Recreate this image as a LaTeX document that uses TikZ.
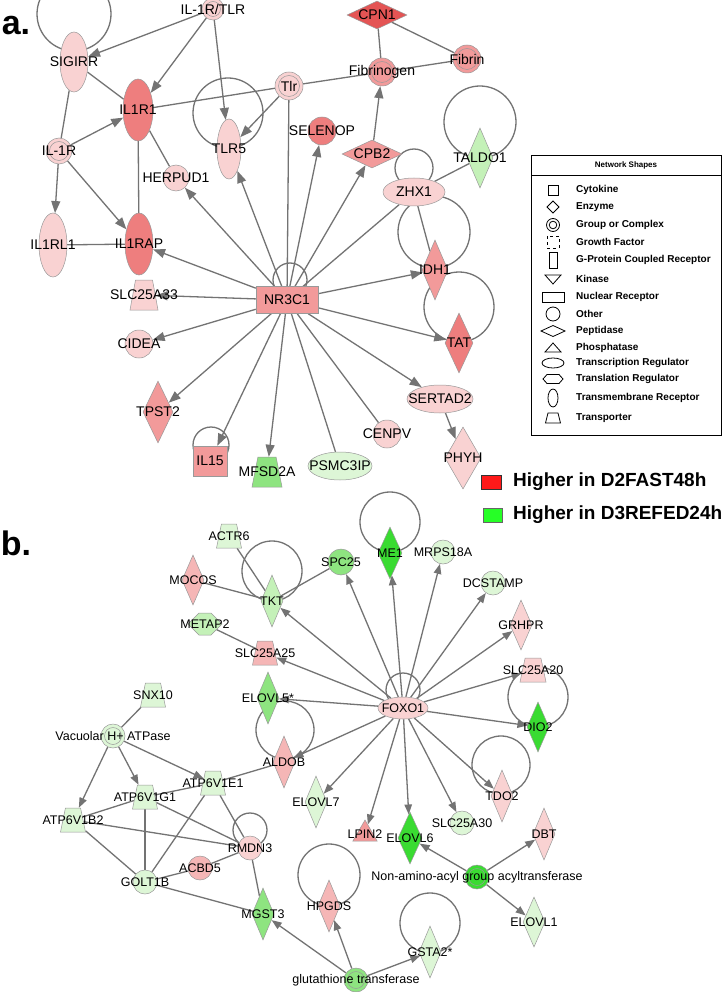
\documentclass[tikz,border=0pt]{standalone}
\usepackage{fontspec}
\setmainfont{Liberation Sans}
\usetikzlibrary{shapes.geometric,shapes.symbols,arrows.meta,backgrounds}
\definecolor{pk1}{HTML}{F9D2D2}
\definecolor{pk2}{HTML}{F5B6B6}
\definecolor{pk3}{HTML}{F29A9A}
\definecolor{pk4}{HTML}{EE7E7E}
\definecolor{pk5}{HTML}{E45454}
\definecolor{gn1}{HTML}{DDF6D6}
\definecolor{gn2}{HTML}{C4F1B8}
\definecolor{gn3}{HTML}{8EE480}
\definecolor{gn4}{HTML}{3ADB32}
\colorlet{edgec}{black!55}
\newcommand{\fsa}{\fontsize{14}{16}\selectfont}
\newcommand{\fsb}{\fontsize{12.5}{14}\selectfont}
\tikzset{
  gbase/.style={draw=black!40,line width=.5pt,inner sep=0pt,fill=#1},
  tmr/.style={gbase=#1,ellipse,minimum width=28,minimum height=62},
  trreg/.style={gbase=#1,ellipse,minimum width=64,minimum height=28},
  enz/.style={gbase=#1,diamond,minimum width=28,minimum height=60},
  pep/.style={gbase=#1,diamond,minimum width=60,minimum height=28},
  grp/.style={gbase=#1,circle,minimum size=26,
    path picture={\draw[black!40,line width=.5pt] (path picture bounding box.center)
      circle[radius={\pgfkeysvalueof{/pgf/minimum width}/2-3.5}];}},
  oth/.style={gbase=#1,circle,minimum size=28},
  nucr/.style={gbase=#1,rectangle,minimum width=62,minimum height=27},
  cyt/.style={gbase=#1,rectangle,minimum width=34,minimum height=30},
  trans/.style={gbase=#1,inner sep=2pt,trapezium,trapezium stretches=true,trapezium left angle=72,
    trapezium right angle=72,minimum width=28,minimum height=30},
  phos/.style={gbase=#1,regular polygon,regular polygon sides=3,minimum size=28},
  tlreg/.style={gbase=#1,signal,signal to=east and west,minimum width=34,minimum height=22},
  smd/.style={minimum width=22,minimum height=52},
  smt/.style={minimum width=25,minimum height=24},
  rel/.style={draw=edgec,line width=1.3pt},
  act/.style={rel,-{Triangle[length=12pt,width=9pt]}},
  actb/.style={rel,-{Triangle[length=10pt,width=7.5pt]}},
  lgtxt/.style={font=\fontsize{10}{12}\bfseries\selectfont,anchor=west,inner sep=0pt},
  icon/.style={draw=black,line width=.8pt}
}

\begin{document}
\begin{tikzpicture}[x=1pt,y=-1pt]
  \useasboundingbox (0,0) rectangle (723,992);
  \node[font=\fontsize{34}{36}\bfseries\selectfont] (pa) at (16,26) {a.};
  \node[font=\fontsize{34}{36}\bfseries\selectfont] (pb) at (16,543) {b.};

  % panel a
  \begin{scope}[every label/.style={font=\fsa,inner sep=0pt}]
  \node[grp=pk1,minimum size=22,label=center:IL-1R/TLR] (iltlr) at (213,9) {};
  \node[tmr=pk1,minimum height=60,label=center:SIGIRR] (sigirr) at (74,62) {};
  \node[tmr=pk4,minimum width=30,label=center:IL1R1] (il1r1) at (138,110) {};
  \node[grp=pk1,label=center:IL-1R] (il1r) at (59,151) {};
  \node[tmr=pk1,minimum width=24,minimum height=60,label=center:TLR5] (tlr5) at (229,149) {};
  \node[oth=pk1,minimum size=26,label=center:HERPUD1] (herpud) at (176,178) {};
  \node[grp=pk1,minimum size=28,label=center:Tlr] (tlr) at (289,86) {};
  \node[pep=pk5,label=center:CPN1] (cpn1) at (377,15) {};
  \node[grp=pk3,minimum size=28,label=center:Fibrinogen] (fbg) at (382,72) {};
  \node[grp=pk3,minimum size=28,label=center:Fibrin] (fbn) at (467,59) {};
  \node[oth=pk4,label=center:SELENOP] (selenop) at (322,131) {};
  \node[pep=pk3,label=center:CPB2] (cpb2) at (372,154) {};
  \node[trreg=pk1,minimum width=62,label=center:ZHX1] (zhx1) at (414,192) {};
  \node[enz=gn2,minimum width=26,label=center:TALDO1] (taldo1) at (480,158) {};
  \node[tmr=pk1,minimum height=64,label=center:IL1RL1] (il1rl1) at (53,245) {};
  \node[tmr=pk4,label=center:IL1RAP] (il1rap) at (139,244) {};
  \node[trans=pk1,label=center:SLC25A33] (slc33) at (144,295) {};
  \node[nucr=pk3,label=center:NR3C1] (nr3c1) at (287,300) {};
  \node[enz=pk3,minimum width=26,label=center:IDH1] (idh1) at (435,270) {};
  \node[enz=pk4,label=center:TAT] (tat) at (459,343) {};
  \node[oth=pk1,label=center:CIDEA] (cidea) at (139,344) {};
  \node[enz=pk3,minimum width=30,minimum height=62,label=center:TPST2] (tpst2) at (158,412) {};
  \node[cyt=pk3,label=center:IL15] (il15) at (210,461) {};
  \node[trans=gn3,minimum width=30,label=center:MFSD2A] (mfsd2a) at (267,472) {};
  \node[trreg=gn1,label=center:PSMC3IP] (psmc3ip) at (340,466) {};
  \node[oth=pk1,label=center:CENPV] (cenpv) at (387,434) {};
  \node[trreg=pk1,minimum width=66,label=center:SERTAD2] (sertad2) at (440,399) {};
  \node[enz=pk1,minimum width=36,minimum height=62,label=center:PHYH] (phyh) at (463,458) {};
  \end{scope}

  % legend
  \draw[line width=.9pt] (531,155) rectangle (721,435);
  \draw[line width=.9pt] (531,175) -- (721,175);
  \node[font=\fontsize{8}{10}\bfseries\selectfont] (lgtitle) at (626,165) {Network Shapes};
  \foreach \yy/\txt in {190/Cytokine,207/Enzyme,225/Group or Complex,242/Growth Factor,
    260/G-Protein Coupled Receptor,279/Kinase,297/Nuclear Receptor,314/Other,331/Peptidase,
    348/Phosphatase,363/Transcription Regulator,379/Translation Regulator,
    398/Transmembrane Receptor,418/Transporter}
    \node[lgtxt] (lg\yy) at (576,\yy) {\txt};
  \draw[icon] (548,185) rectangle (558,195);
  \draw[icon] (553,201) -- (559,207) -- (553,213) -- (547,207) -- cycle;
  \draw[icon] (553,225) circle[radius=6.5] (553,225) circle[radius=3.8];
  \draw[icon,dashed] (547,236) rectangle (559,248);
  \draw[icon] (549,252) rectangle (557,268);
  \draw[icon] (545,275) -- (561,275) -- (553,284) -- cycle;
  \draw[icon] (542,292) rectangle (564,302);
  \draw[icon] (553,314) circle[radius=7];
  \draw[icon] (541,331) -- (553,325.5) -- (565,331) -- (553,336.5) -- cycle;
  \draw[icon] (545,352) -- (561,352) -- (553,343) -- cycle;
  \draw[icon] (553,363) ellipse[x radius=11,y radius=5];
  \draw[icon] (543,379) -- (547,374.5) -- (559,374.5) -- (563,379) -- (559,383.5) -- (547,383.5) -- cycle;
  \draw[icon] (553,398) ellipse[x radius=5,y radius=9];
  \draw[icon] (548,413) -- (558,413) -- (560.5,423) -- (545.5,423) -- cycle;

  \draw[fill=red!90!white,draw=black!80,line width=.8pt] (481,475) rectangle (501,489);
  \draw[fill=green!85!white,draw=black!60,line width=.8pt] (483,508) rectangle (502,522);
  \node[font=\fontsize{19}{21}\bfseries\selectfont,anchor=west,inner sep=0pt] (hi1) at (513,482) {Higher in D2FAST48h};
  \node[font=\fontsize{19}{21}\bfseries\selectfont,anchor=west,inner sep=0pt] (hi2) at (513,515) {Higher in D3REFED24h};

  % panel b
  \begin{scope}[every label/.style={font=\fsb,inner sep=0pt}]
  \node[trans=gn1,smt,label=center:ACTR6] (actr6) at (229,536) {};
  \node[enz=pk2,smd,minimum height=50,label=center:MOCOS] (mocos) at (193,580) {};
  \node[enz=gn2,smd,label=center:TKT] (tkt) at (272,601) {};
  \node[oth=gn3,minimum size=26,label=center:SPC25] (spc25) at (341,562) {};
  \node[enz=gn4,smd,minimum width=24,label=center:ME1] (me1) at (390,553) {};
  \node[oth=gn1,minimum size=24,label=center:MRPS18A] (mrps) at (443,552) {};
  \node[oth=gn1,minimum size=24,label=center:DCSTAMP] (dcstamp) at (493,583) {};
  \node[enz=pk1,smd,minimum height=50,label=center:GRHPR] (grhpr) at (521,625) {};
  \node[tlreg=gn2,label=center:METAP2] (metap2) at (205,624) {};
  \node[trans=pk2,smt,label=center:SLC25A25] (slc25) at (265,653) {};
  \node[trans=pk1,smt,minimum width=26,label=center:SLC25A20] (slc20) at (533,670) {};
  \node[enz=gn3,smd,label=center:ELOVL5*] (elovl5) at (268,698) {};
  \node[trreg=pk1,minimum width=50,minimum height=22,label=center:FOXO1] (foxo1) at (403,708) {};
  \node[enz=gn4,smd,minimum height=50,label=center:DIO2] (dio2) at (538,727) {};
  \node[enz=pk2,smd,label=center:ALDOB] (aldob) at (284,762) {};
  \node[trans=gn1,smt,label=center:SNX10] (snx10) at (153,695) {};
  \node[grp=gn1,minimum size=24,label=center:Vacuolar H+ ATPase] (vac) at (113,736) {};
  \node[trans=gn1,smt,label=center:ATP6V1E1] (e1) at (213,783) {};
  \node[trans=gn1,smt,label=center:ATP6V1G1] (g1) at (145,797) {};
  \node[trans=gn1,smt,label=center:ATP6V1B2] (b2) at (73,820) {};
  \node[oth=gn1,minimum size=24,label=center:GOLT1B] (golt) at (145,882) {};
  \node[oth=pk2,minimum size=24,label=center:ACBD5] (acbd5) at (200,868) {};
  \node[oth=pk1,minimum size=24,label=center:RMDN3] (rmdn3) at (250,848) {};
  \node[enz=gn3,smd,label=center:MGST3] (mgst3) at (263,914) {};
  \node[enz=pk2,smd,label=center:HPGDS] (hpgds) at (329,906) {};
  \node[grp=gn3,minimum size=24,label=center:glutathione transferase] (gst) at (356,980) {};
  \node[enz=gn1,smd,label=center:GSTA2*] (gsta2) at (430,952) {};
  \node[grp=gn4,minimum size=24,label=center:Non-amino-acyl group acyltransferase] (nonam) at (477,877) {};
  \node[enz=gn4,smd,minimum width=24,label=center:ELOVL6] (elovl6) at (410,838) {};
  \node[phos=pk3,label=center:LPIN2] (lpin2) at (365,834) {};
  \node[oth=gn1,minimum size=24,label=center:SLC25A30] (slc30) at (462,823) {};
  \node[enz=pk1,smd,label=center:TDO2] (tdo2) at (502,796) {};
  \node[enz=pk1,smd,label=center:DBT] (dbt) at (544,834) {};
  \node[enz=gn1,smd,minimum height=50,label=center:ELOVL1] (elovl1) at (534,922) {};
  \node[enz=gn1,smd,label=center:ELOVL7] (elovl7) at (316,802) {};
  \end{scope}

  \begin{pgfonlayer}{background}
    \fill[white] (0,0) rectangle (723,992);
    % self loops
    \foreach \cx/\cy/\r in {74/14/37,228/113/35,290/280/17,414/168/19,434/232/36,459/307/35,
      480/122/36,211/445/18,272/571/30,390/522/30,403/690/17,538/697/30,285/730/29,
      501/765/29,250/830/17,329/875/31,430/923/30}
      \draw[rel] (\cx,\cy) circle[radius=\r];
    % panel a links
    \draw[act] (iltlr) -- (sigirr);
    \draw[act] (iltlr) -- (il1r1);
    \draw[act] (iltlr) -- (tlr5);
    \draw[rel] (sigirr) -- (il1r1);
    \draw[rel] (sigirr) -- (il1r);
    \draw[act] (il1r) -- (il1r1);
    \draw[act] (il1r) -- (il1rl1);
    \draw[act] (il1r) -- (il1rap);
    \draw[rel] (il1r1) -- (il1rap);
    \draw[rel] (il1r1) -- (herpud);
    \draw[rel] (il1r1) -- (tlr);
    \draw[rel] (il1rl1) -- (il1rap);
    \draw[act] (tlr) -- (tlr5);
    \draw[rel] (tlr) -- (fbg);
    \draw[rel] (tlr) -- (nr3c1);
    \draw[rel] (cpn1) -- (fbg);
    \draw[rel] (cpn1) -- (fbn);
    \draw[rel] (fbg) -- (fbn);
    \draw[act] (cpb2) -- (fbg);
    \draw[rel] (zhx1) -- (taldo1);
    \draw[rel] (zhx1) -- (idh1);
    \draw[rel] (nr3c1) -- (zhx1);
    \foreach \t in {tlr5,herpud,il1rap,slc33,cidea,tpst2,il15,mfsd2a,selenop,cpb2,idh1,tat,sertad2}
      \draw[act] (nr3c1) -- (\t);
    \draw[rel] (nr3c1) -- (psmc3ip);
    \draw[rel] (nr3c1) -- (cenpv);
    \draw[act] (sertad2) -- (phyh);
    % panel b links
    \foreach \t in {elovl5,slc25,tkt,spc25,me1,mrps,dcstamp,grhpr,slc20,dio2,tdo2,slc30,
      elovl6,lpin2,elovl7,aldob}
      \draw[actb] (foxo1) -- (\t);
    \draw[rel] (tkt) -- (actr6);
    \draw[rel] (tkt) -- (mocos);
    \draw[rel] (tkt) -- (spc25);
    \draw[rel] (metap2) -- (slc25);
    \draw[rel] (snx10) -- (vac);
    \draw[actb] (vac) -- (e1);
    \draw[actb] (vac) -- (g1);
    \draw[actb] (vac) -- (b2);
    \draw[rel] (e1) -- (aldob);
    \draw[rel] (g1) -- (e1);
    \draw[rel] (b2) -- (g1);
    \draw[rel] (b2) -- (rmdn3);
    \draw[rel] (g1) -- (rmdn3);
    \draw[rel] (e1) -- (rmdn3);
    \draw[rel] (b2) -- (golt);
    \draw[rel] (g1) -- (golt);
    \draw[rel] (e1) -- (golt);
    \draw[rel] (golt) -- (acbd5);
    \draw[rel] (acbd5) -- (rmdn3);
    \draw[rel] (golt) -- (mgst3);
    \draw[rel] (rmdn3) -- (mgst3);
    \draw[actb] (gst) -- (mgst3);
    \draw[actb] (gst) -- (hpgds);
    \draw[actb] (gst) -- (gsta2);
    \draw[actb] (nonam) -- (elovl6);
    \draw[actb] (nonam) -- (dbt);
    \draw[actb] (nonam) -- (elovl1);
  \end{pgfonlayer}
\end{tikzpicture}
\end{document}
